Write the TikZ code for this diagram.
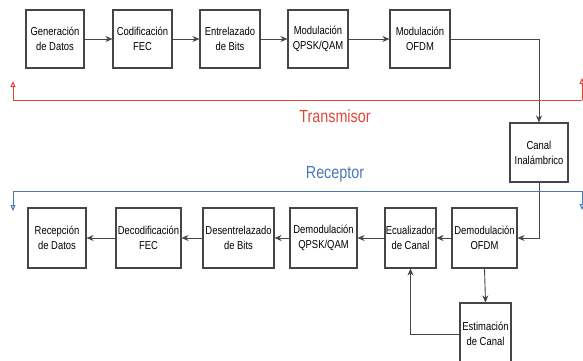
\documentclass[tikz,border=0pt]{standalone}
\usepackage{fontspec}
\setmainfont{Liberation Sans}[FakeStretch=0.82]
\usetikzlibrary{arrows.meta}
\definecolor{boxline}{HTML}{454545}
\definecolor{txred}{HTML}{E0453A}
\definecolor{rxblue}{HTML}{4A78B8}
\tikzset{
  blk/.style={draw=boxline, line width=1.1pt, fill=white, align=center, font=\fontsize{11.5}{15}\selectfont, inner sep=0pt},
  conn/.style={draw=boxline, line width=0.9pt, -{Stealth[length=7pt,width=6pt]}},
  txline/.style={draw=txred, line width=1pt},
  rxline/.style={draw=rxblue, line width=1pt},
}
\begin{document}
\begin{tikzpicture}[x=1pt,y=-1pt]
\useasboundingbox (0,0) rectangle (583,360);
% top row
\node[blk, minimum width=58pt, minimum height=58pt] (gen) at (55,39) {Generación\\de Datos};
\node[blk, minimum width=59pt, minimum height=58pt] (cod) at (142.5,39) {Codificación\\FEC};
\node[blk, minimum width=60pt, minimum height=58pt] (ent) at (230,39) {Entrelazado\\de Bits};
\node[blk, minimum width=60pt, minimum height=58pt] (modq) at (318,39) {Modulación\\QPSK/QAM};
\node[blk, minimum width=60pt, minimum height=58pt] (modo) at (420,39) {Modulación\\OFDM};
% channel
\node[blk, minimum width=58pt, minimum height=59pt] (can) at (539,152.5) {Canal\\Inalámbrico};
% bottom row
\node[blk, minimum width=58pt, minimum height=60pt] (rec) at (57,238) {Recepción\\de Datos};
\node[blk, minimum width=65pt, minimum height=60pt] (dec) at (148.5,238) {Decodificación\\FEC};
\node[blk, minimum width=71pt, minimum height=60pt] (des) at (238.5,238) {Desentrelazado\\de Bits};
\node[blk, minimum width=67pt, minimum height=60pt] (demq) at (323.5,238) {Demodulación\\QPSK/QAM};
\node[blk, minimum width=51pt, minimum height=60pt] (ecu) at (410.5,238) {Ecualizador\\de Canal};
\node[blk, minimum width=65pt, minimum height=60pt] (demo) at (484.5,238) {Demodulación\\OFDM};
\node[blk, minimum width=51pt, minimum height=62pt] (est) at (485.5,334) {Estimación\\de Canal};
% transmitter chain
\draw[conn] (gen) -- (cod);
\draw[conn] (cod) -- (ent);
\draw[conn] (ent) -- (modq);
\draw[conn] (modq) -- (modo);
\draw[conn] (modo.east) -| (can.north);
% receiver chain
\draw[conn] (can.south) |- (demo.east);
\draw[conn] (demo) -- (ecu);
\draw[conn] (ecu) -- (demq);
\draw[conn] (demq) -- (des);
\draw[conn] (des) -- (dec);
\draw[conn] (dec) -- (rec);
\draw[conn] (demo.south) -- (est.north);
\draw[conn] (est.west) -| (ecu.south);
% transmitter boundary
\coordinate (tl) at (13,81);
\coordinate (tr) at (582,78);
\draw[txline, -{Triangle[open,length=6pt,width=5pt]}] (13,100) -- (tl);
\draw[txline] (13,100) -- (582,100);
\draw[txline, -{Triangle[open,length=6pt,width=5pt]}] (582,100) -- (tr);
\node[text=txred, font=\fontsize{17.5}{20}\selectfont, inner sep=0pt] (txlab) at (335,116) {Transmisor};
% receiver boundary
\coordinate (bl) at (13,211);
\coordinate (br) at (582,210);
\draw[rxline, -{Triangle[open,length=6pt,width=5pt]}] (13,191) -- (bl);
\draw[rxline] (13,191) -- (582,191);
\draw[rxline, -{Triangle[open,length=6pt,width=5pt]}] (582,191) -- (br);
\node[text=rxblue, font=\fontsize{17.5}{20}\selectfont, inner sep=0pt] (rxlab) at (335,174) {Receptor};
\end{tikzpicture}
\end{document}
